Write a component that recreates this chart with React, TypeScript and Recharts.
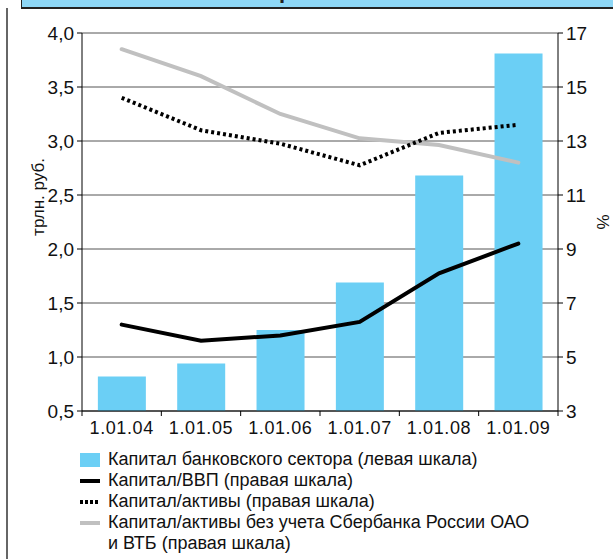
import { ComposedChart, Bar, Line, XAxis, YAxis, CartesianGrid } from 'recharts';

const dates = ['1.01.04', '1.01.05', '1.01.06', '1.01.07', '1.01.08', '1.01.09'];
// трлн. руб., left axis
const capital = [0.82, 0.94, 1.25, 1.69, 2.68, 3.81];
// %, right axis
const capitalToGdp = [6.2, 5.6, 5.8, 6.3, 8.1, 9.2];
const capitalToAssets = [14.6, 13.4, 12.9, 12.1, 13.3, 13.6];
const capitalToAssetsExSberVtb = [16.4, 15.4, 14.0, 13.1, 12.85, 12.2];

const leftTicks = [0.5, 1.0, 1.5, 2.0, 2.5, 3.0, 3.5, 4.0];
const rightTicks = [3, 5, 7, 9, 11, 13, 15, 17];

const FONT = '"Liberation Sans", Arial, sans-serif';
const BLUE = '#6bcff5';
const GRAY = '#c0c0c0';

const PLOT_LEFT = 82;
const PLOT_RIGHT = 558;
const BAND = (PLOT_RIGHT - PLOT_LEFT) / dates.length;

const data = dates.map((d, i) => ({
  date: d,
  capital: capital[i],
  gdp: capitalToGdp[i],
  assets: capitalToAssets[i],
  assetsEx: capitalToAssetsExSberVtb[i],
}));

// Excel style: tick marks sit between categories, label in the middle
function DateTick(props: any) {
  const { x, y, payload, index } = props;
  const axisY = y - 8;
  const left = x - BAND / 2;
  return (
    <g>
      <line x1={left} x2={left} y1={axisY} y2={axisY + 5} stroke="#000" />
      {index === dates.length - 1 && (
        <line x1={x + BAND / 2} x2={x + BAND / 2} y1={axisY} y2={axisY + 5} stroke="#000" />
      )}
      <text x={x} y={axisY + 23} textAnchor="middle" fontSize={18} letterSpacing={0.6} fill="#111" fontFamily={FONT}>
        {payload.value}
      </text>
    </g>
  );
}

// left axis title sits a bit above the middle of the plot
function LeftTitle(props: any) {
  const { viewBox } = props;
  const x = viewBox.x + 16;
  const y = viewBox.y + viewBox.height / 2 - 25;
  return (
    <text x={x} y={y} transform={`rotate(-90, ${x}, ${y})`} textAnchor="middle" dominantBaseline="central" fontSize={17} fill="#111" fontFamily={FONT}>
      трлн. руб.
    </text>
  );
}

const legendItems = [
  { label: 'Капитал банковского сектора (левая шкала)', kind: 'bar' },
  { label: 'Капитал/ВВП (правая шкала)', kind: 'solid' },
  { label: 'Капитал/активы (правая шкала)', kind: 'dotted' },
  { label: 'Капитал/активы без учета Сбербанка России ОАО', kind: 'gray', extra: 'и ВТБ (правая шкала)' },
];

function LegendIcon({ kind }: { kind: string }) {
  if (kind === 'bar') return <rect x={0} y={3} width={20} height={14} fill={BLUE} />;
  if (kind === 'solid') return <line x1={0} x2={20} y1={10} y2={10} stroke="#000" strokeWidth={4} />;
  if (kind === 'dotted')
    return <line x1={0} x2={20} y1={10} y2={10} stroke="#000" strokeWidth={4} strokeDasharray="3 2" />;
  return <line x1={0} x2={20} y1={10} y2={10} stroke={GRAY} strokeWidth={4} />;
}

const tickStyle = { fontSize: 19, fill: '#111', fontFamily: FONT };

export default function App() {
  return (
    <div style={{ position: 'absolute', left: 0, top: 0, width: 613, height: 559, background: '#fff', overflow: 'hidden', fontFamily: FONT }}>
      {/* header strip, mostly cut off */}
      <div style={{ position: 'absolute', left: 21, top: -2, width: 600, height: 9, background: '#8dd7f6', borderLeft: '1px solid #222', borderBottom: '2px solid #222', overflow: 'hidden' }}>
        <div style={{ position: 'absolute', left: 257, top: -20, fontSize: 22, fontWeight: 'bold', color: '#222', fontFamily: FONT }}>р</div>
      </div>
      <div style={{ position: 'absolute', left: 6, top: 8, width: 2, height: 560, background: '#666' }} />

      <div style={{ position: 'absolute', left: 0, top: 0 }}>
        <ComposedChart width={613} height={440} data={data} margin={{ top: 33, right: 0, bottom: 0, left: 22 }} barCategoryGap="20%">
          <CartesianGrid horizontal vertical={false} stroke="#555" yAxisId="left" />
          <XAxis dataKey="date" xAxisId={0} axisLine={{ stroke: '#000' }} tickLine={false} height={29} tick={<DateTick />} interval={0} />
          <YAxis
            yAxisId="left"
            domain={[0.5, 4]}
            ticks={leftTicks}
            width={60}
            tickSize={5}
            tickMargin={3}
            axisLine={{ stroke: '#000' }}
            tickLine={{ stroke: '#000' }}
            tickFormatter={(v: number) => v.toFixed(1).replace('.', ',')}
            tick={tickStyle}
            label={<LeftTitle />}
          />
          <YAxis
            yAxisId="right"
            orientation="right"
            domain={[3, 17]}
            ticks={rightTicks}
            width={55}
            tickSize={5}
            tickMargin={3}
            axisLine={{ stroke: '#000' }}
            tickLine={{ stroke: '#000' }}
            tick={tickStyle}
            label={{ value: '%', angle: -90, position: 'insideRight', offset: 10, style: { textAnchor: 'middle', fontSize: 17, fill: '#111', fontFamily: FONT } }}
          />
          <Bar yAxisId="left" dataKey="capital" fill={BLUE} isAnimationActive={false} />
          <Line yAxisId="right" dataKey="assetsEx" stroke={GRAY} strokeWidth={4} strokeLinecap="round" dot={false} isAnimationActive={false} />
          <Line yAxisId="right" dataKey="assets" stroke="#000" strokeWidth={4} strokeDasharray="3 3" dot={false} isAnimationActive={false} />
          <Line yAxisId="right" dataKey="gdp" stroke="#000" strokeWidth={4} strokeLinecap="round" dot={false} isAnimationActive={false} />
        </ComposedChart>
      </div>

      <div style={{ position: 'absolute', left: 80, top: 449 }}>
        {legendItems.map((item) => (
          <div key={item.label}>
            <div style={{ display: 'flex', alignItems: 'center', height: 21 }}>
              <svg width={20} height={20} style={{ marginRight: 8 }}>
                <LegendIcon kind={item.kind} />
              </svg>
              <span style={{ fontSize: 18, color: '#111', whiteSpace: 'nowrap' }}>{item.label}</span>
            </div>
            {item.extra && (
              <div style={{ height: 21, lineHeight: '21px', paddingLeft: 28, fontSize: 18, color: '#111' }}>{item.extra}</div>
            )}
          </div>
        ))}
      </div>
    </div>
  );
}
